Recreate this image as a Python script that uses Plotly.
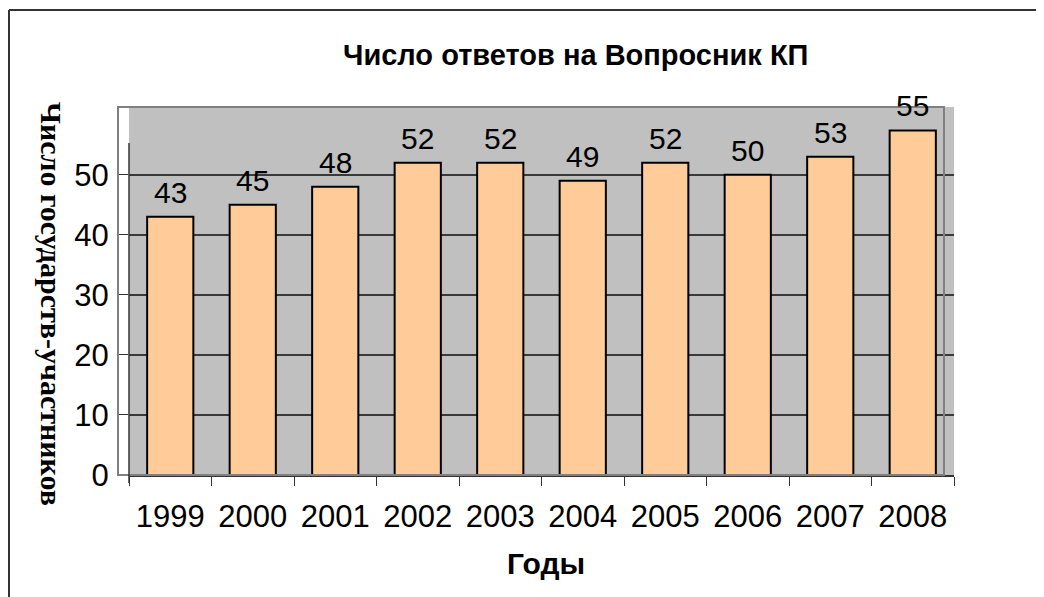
import plotly.graph_objects as go

years = ["1999", "2000", "2001", "2002", "2003", "2004", "2005", "2006", "2007", "2008"]
bar_heights = [43, 45, 48, 52, 52, 49, 52, 50, 53, 57.4]
bar_labels = ["43", "45", "48", "52", "52", "49", "52", "50", "53", "55"]
y_ticks = [0, 10, 20, 30, 40, 50]

OFF = 8  # page body margin
W, H = 1044 - OFF, 597 - OFF
L, T = 129 - OFF, 107 - OFF
R = W - (954 - OFF)
B = H - (475 - OFF)
pw, ph = W - L - R, H - T - B

def px_x(x):
    # x: page pixel
    return (x - OFF - L) / pw

def px_y(y):
    return (H - B - (y - OFF)) / ph

fig = go.Figure()
fig.add_trace(go.Bar(
    x=years, y=bar_heights,
    marker=dict(color="#FFCC99", line=dict(color="black", width=2)),
    width=0.56,
    hoverinfo="skip",
))

for i, (yv, t) in enumerate(zip(bar_heights, bar_labels)):
    fig.add_annotation(x=i, y=yv, text=t, showarrow=False, yanchor="bottom",
                       yshift=6, font=dict(family="Liberation Sans, Arial", size=30, color="black"))

fig.update_layout(
    width=W, height=H,
    autosize=False,
    margin=dict(l=L, r=R, t=T, b=B, autoexpand=False),
    paper_bgcolor="white",
    plot_bgcolor="#C0C0C0",
    showlegend=False,
    font=dict(family="Liberation Sans, Arial", color="black"),
)

fig.update_xaxes(
    type="category",
    categoryorder="array", categoryarray=years,
    range=[-0.5, len(years) - 0.5],
    automargin=False,
    tickson="boundaries",
    tickangle=0,
    ticks="outside", ticklen=9, tickcolor="#333333", tickwidth=1,
    showline=True, linecolor="#333333", linewidth=2,
    showgrid=False,
    tickfont=dict(family="Liberation Sans, Arial", size=31, color="black"),
    ticklabelstandoff=13,
)

fig.update_yaxes(
    range=[0, 61.3],
    automargin=False,
    tickvals=y_ticks,
    ticks="outside", ticklen=11, tickcolor="#333333", tickwidth=1,
    showline=False,
    showgrid=True, gridcolor="#3a3a3a", gridwidth=1.5,
    zeroline=False,
    tickfont=dict(family="Liberation Sans, Arial", size=31, color="black"),
    ticklabelstandoff=2,
)

# Title
fig.add_annotation(xref="paper", yref="paper", x=px_x(575), y=px_y(55),
                   text="<b>Число ответов на Вопросник КП</b>", showarrow=False,
                   xanchor="center", yanchor="middle",
                   font=dict(family="Liberation Sans, Arial", size=29, color="black"))
# X axis title
fig.add_annotation(xref="paper", yref="paper", x=px_x(546), y=px_y(563),
                   text="<b>Годы</b>", showarrow=False,
                   xanchor="center", yanchor="middle",
                   font=dict(family="Liberation Sans, Arial", size=30, color="black"))
# Y axis title (rotated clockwise)
fig.add_annotation(xref="paper", yref="paper", x=px_x(52), y=px_y(304),
                   text="<b>Число государств-участников</b>", showarrow=False,
                   textangle=90, xanchor="center", yanchor="middle",
                   font=dict(family="Liberation Serif, Times New Roman", size=30, color="black"))

# Decorations: offset chart-area outline, y axis line, outer frame
fig.add_shape(type="rect", xref="paper", yref="paper",
              x0=px_x(118), x1=px_x(944), y0=px_y(475), y1=px_y(107),
              line=dict(color="#808080", width=2), layer="above")
fig.add_shape(type="line", xref="paper", yref="paper",
              x0=0, x1=0, y0=px_y(483), y1=px_y(143),
              line=dict(color="#333333", width=1.5), layer="above")
fig.add_shape(type="line", xref="paper", yref="paper",
              x0=px_x(9), x1=px_x(9), y0=px_y(10), y1=px_y(600),
              line=dict(color="#333333", width=2))
fig.add_shape(type="line", xref="paper", yref="paper",
              x0=px_x(9), x1=px_x(1050), y0=px_y(10), y1=px_y(10),
              line=dict(color="#333333", width=2))

fig.write_html("out.html")
